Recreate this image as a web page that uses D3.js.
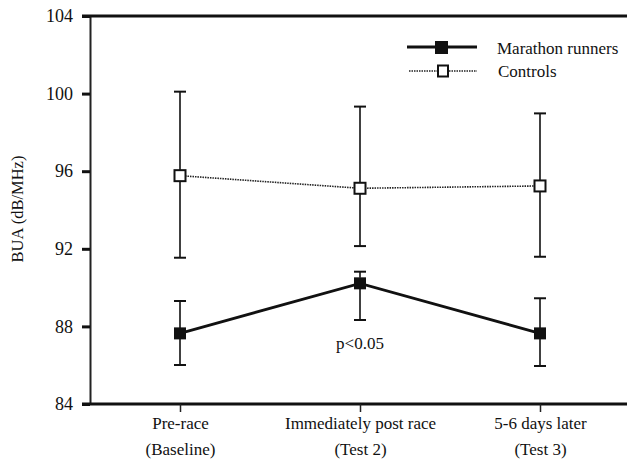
<!DOCTYPE html>
<html>
<head>
<meta charset="utf-8">
<script src="https://cdn.jsdelivr.net/npm/d3@7"></script>
<style>
  body { margin: 0; background: #fff; }
  text { font-family: "Liberation Serif", "Times New Roman", serif; fill: #111; }
</style>
</head>
<body>
<svg width="627" height="465"></svg>
<script>
//	data
var categories = ["Pre-race|(Baseline)", "Immediately post race|(Test 2)", "5-6 days later|(Test 3)"];
var yTicks = [84, 88, 92, 96, 100, 104];
var marathonMean = [87.64, 90.22, 87.64];
var marathonLow = [86.01, 88.33, 85.96];
var marathonHigh = [89.31, 90.82, 89.45];
var controlMean = [95.77, 95.12, 95.24];
var controlLow = [91.54, 92.14, 91.59];
var controlHigh = [100.10, 99.33, 98.98];

var svg = d3.select("svg");
//	note: "top" is a reserved window property, so use a margin object
var plot = {left: 90, top: 16, bottom: 404, right: 630};

var x = d3.scalePoint().domain(categories).range([plot.left, plot.right]).padding(0.5);
var y = d3.scaleLinear().domain([84, 104]).range([plot.bottom, plot.top]);

//	y axis
var axisY = d3.axisLeft(y).tickValues(yTicks).tickSize(8).tickSizeOuter(0).tickPadding(9);
var gy = svg.append("g").attr("transform", "translate(" + plot.left + ",0)").call(axisY);
gy.attr("font-family", null);
gy.select(".domain").attr("stroke", "#222").attr("stroke-width", 2);
gy.selectAll(".tick line").attr("stroke", "#111").attr("stroke-width", 3);
gy.selectAll(".tick text").style("font-size", "18px");

//	top and bottom frame lines
svg.append("line").attr("x1", plot.left - 8).attr("x2", 627).attr("y1", y(104)).attr("y2", y(104))
	.attr("stroke", "#111").attr("stroke-width", 3);
svg.append("line").attr("x1", plot.left - 8).attr("x2", 627).attr("y1", y(84)).attr("y2", y(84))
	.attr("stroke", "#111").attr("stroke-width", 3);

//	x axis
var axisX = d3.axisBottom(x).tickSize(8).tickSizeOuter(0).tickFormat("");
var gx = svg.append("g").attr("transform", "translate(0," + plot.bottom + ")").call(axisX);
gx.attr("font-family", null);
gx.select(".domain").remove();
gx.selectAll(".tick line").attr("stroke", "#222").attr("stroke-width", 1.5);
gx.selectAll(".tick").each(function(d) {
	var parts = d.split("|");
	var t = d3.select(this).append("text")
		.attr("text-anchor", "middle")
		.style("font-size", "17px")
		.attr("fill", "#111");
	t.append("tspan").attr("x", 0).attr("y", 25).text(parts[0]);
	t.append("tspan").attr("x", 0).attr("y", 51).text(parts[1]);
});

//	y axis title
svg.append("text")
	.attr("transform", "translate(23,209) rotate(-90)")
	.attr("text-anchor", "middle")
	.style("font-size", "16.5px")
	.text("BUA (dB/MHz)");

var half = 5.5;

//	error bars, drawn above and below the marker
function errorBars(cls, mean, low, high) {
	var g = svg.append("g").attr("class", cls);
	categories.forEach(function(c, i) {
		var cx = x(c);
		g.append("line").attr("x1", cx).attr("x2", cx)
			.attr("y1", y(high[i])).attr("y2", y(mean[i]) - half)
			.attr("stroke", "#111").attr("stroke-width", 1.6);
		g.append("line").attr("x1", cx).attr("x2", cx)
			.attr("y1", y(mean[i]) + half).attr("y2", y(low[i]))
			.attr("stroke", "#111").attr("stroke-width", 1.6);
		[high[i], low[i]].forEach(function(v) {
			g.append("line").attr("x1", cx - 6).attr("x2", cx + 6)
				.attr("y1", y(v)).attr("y2", y(v))
				.attr("stroke", "#111").attr("stroke-width", 2);
		});
	});
}
errorBars("errControl", controlMean, controlLow, controlHigh);
errorBars("errMarathon", marathonMean, marathonLow, marathonHigh);

//	series lines
var line = d3.line()
	.x(function(d) { return x(d.c); })
	.y(function(d) { return y(d.v); });
var controlData = categories.map(function(c, i) { return {c: c, v: controlMean[i]}; });
var marathonData = categories.map(function(c, i) { return {c: c, v: marathonMean[i]}; });

svg.append("path").datum(controlData).attr("d", line)
	.attr("fill", "none").attr("stroke", "#222").attr("stroke-width", 1.6)
	.attr("stroke-dasharray", "1.5,1");
svg.append("path").datum(marathonData).attr("d", line)
	.attr("fill", "none").attr("stroke", "#111").attr("stroke-width", 2.8);

//	markers
svg.selectAll(".mControl").data(controlData).enter().append("rect")
	.attr("class", "mControl")
	.attr("x", function(d) { return x(d.c) - half; })
	.attr("y", function(d) { return y(d.v) - half; })
	.attr("width", half * 2).attr("height", half * 2)
	.attr("fill", "#fff").attr("stroke", "#111").attr("stroke-width", 2);
svg.selectAll(".mMarathon").data(marathonData).enter().append("rect")
	.attr("class", "mMarathon")
	.attr("x", function(d) { return x(d.c) - half - 0.5; })
	.attr("y", function(d) { return y(d.v) - half - 0.5; })
	.attr("width", half * 2 + 1).attr("height", half * 2 + 1)
	.attr("fill", "#111");

//	significance note
svg.append("text")
	.attr("x", x(categories[1])).attr("y", 349)
	.attr("text-anchor", "middle")
	.style("font-size", "17px")
	.text("p<0.05");

//	legend
var legend = svg.append("g").attr("transform", "translate(407,0)");
legend.append("line").attr("x1", 0).attr("x2", 70).attr("y1", 47).attr("y2", 47)
	.attr("stroke", "#111").attr("stroke-width", 2.8);
legend.append("rect").attr("x", 28).attr("y", 41).attr("width", 13).attr("height", 13).attr("fill", "#111");
legend.append("text").attr("x", 90).attr("y", 54).style("font-size", "17px").text("Marathon runners");
legend.append("line").attr("x1", 2).attr("x2", 70).attr("y1", 71).attr("y2", 71)
	.attr("stroke", "#222").attr("stroke-width", 1.6).attr("stroke-dasharray", "1.5,1");
legend.append("rect").attr("x", 31).attr("y", 65.5).attr("width", 10).attr("height", 11)
	.attr("fill", "#fff").attr("stroke", "#111").attr("stroke-width", 2);
legend.append("text").attr("x", 91).attr("y", 77).style("font-size", "17px").text("Controls");
</script>
</body>
</html>
